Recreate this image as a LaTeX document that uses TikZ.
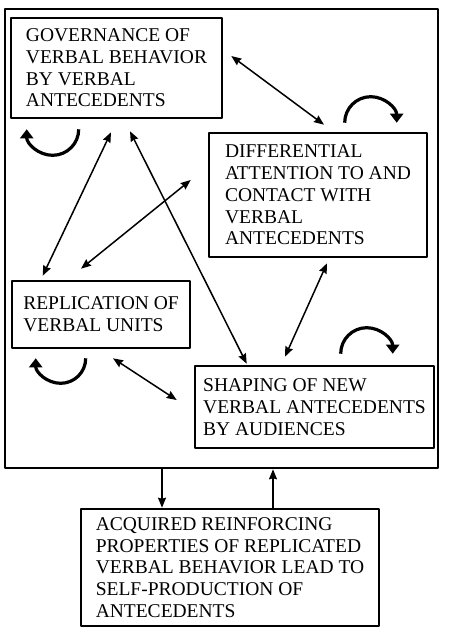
\documentclass[tikz,border=0pt]{standalone}
\usepackage{fontspec}
\setmainfont{Liberation Serif}
\usepackage{tikz}
\usetikzlibrary{arrows.meta,calc}

\begin{document}
\begin{tikzpicture}[x=1pt, y=1pt, line join=round,
    box/.style={draw, line width=2.6pt, align=left, inner sep=0pt,
      font=\fontsize{19.5}{21.7}\selectfont},
    twoway/.style={{Stealth[length=10pt,width=8pt,inset=1pt]}-{Stealth[length=10pt,width=8pt,inset=1pt]}, line width=1.5pt},
    oneway/.style={-{Stealth[length=10pt,width=8pt,inset=1pt]}, line width=1.5pt},
    selfarc/.style={-{Triangle[length=9pt,width=13pt]}, line width=3.2pt}]
    \useasboundingbox (0,0) rectangle (456,-630);
    \node[draw, line width=2.6pt, inner sep=0pt, minimum width=433pt, minimum height=459pt] (frame) at (221.5,-238.5) {};
    \node[box, minimum width=211pt, minimum height=100pt] (gov) at (116.5,-68)
        {GOVERNANCE OF\\VERBAL BEHAVIOR\\BY VERBAL\\ANTECEDENTS};
    \node[box, minimum width=218pt, minimum height=124pt] (diff) at (318,-195)
        {DIFFERENTIAL\\ATTENTION TO AND\\CONTACT WITH\\VERBAL\\ANTECEDENTS};
    \node[box, minimum width=178pt, minimum height=67pt] (rep) at (101,-314.5)
        {REPLICATION OF\\VERBAL UNITS};
    \node[box, minimum width=239pt, minimum height=82pt] (shap) at (314.5,-407)
        {SHAPING OF NEW\\VERBAL ANTECEDENTS\\BY AUDIENCES};
    \node[box, minimum width=298pt, minimum height=117pt] (acq) at (230,-567.5)
        {ACQUIRED REINFORCING\\PROPERTIES OF REPLICATED\\VERBAL BEHAVIOR LEAD TO\\SELF-PRODUCTION OF\\ANTECEDENTS};
    \draw[twoway] ($(gov.east)+(8,12)$) -- ($(diff.north)+(6,7)$);
    \draw[twoway] ($(gov.south)+(-5.5,-13)$) -- ($(rep.north west)+(32,4)$);
    \draw[twoway] ($(gov.south)+(13.5,-12)$) -- ($(shap.north west)+(53,1)$);
    \draw[twoway] ($(rep.north)+(-20,11)$) -- ($(diff.west)+(-17,15)$);
    \draw[twoway] ($(diff.south)+(9,-5)$) -- ($(shap.north)+(-29.5,8)$);
    \draw[twoway] ($(rep.south)+(12,-9)$) -- ($(shap.west)+(-17,7)$);
    \coordinate (down) at ([xshift=-68pt]acq.north);
    \coordinate (up) at ([xshift=43pt]acq.north);
    \draw[oneway] (down |- frame.south) -- (down);
    \draw[oneway] (up) -- (up |- frame.south);
    \draw[selfarc] ($(gov.south west)+(69,-10)$) arc[start angle=0, end angle=-180, radius=26];
    \draw[selfarc] ($(diff.north west)+(137,9)$) arc[start angle=180, end angle=0, radius=26];
    \draw[selfarc] ($(rep.south west)+(75,-9)$) arc[start angle=0, end angle=-180, radius=25];
    \draw[selfarc] ($(shap.north west)+(147,11)$) arc[start angle=180, end angle=0, radius=26];
\end{tikzpicture}
\end{document}
